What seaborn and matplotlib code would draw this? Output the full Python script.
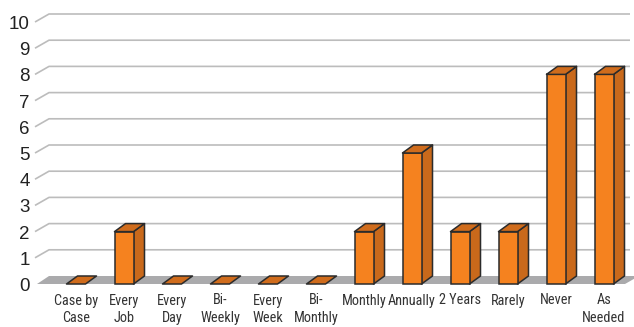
import matplotlib
matplotlib.use("Agg")
import matplotlib.pyplot as plt
from matplotlib import font_manager
from matplotlib.patches import Polygon, Rectangle
import seaborn as sns

categories = ["Case by\nCase", "Every\nJob", "Every\nDay", "Bi-\nWeekly", "Every\nWeek",
              "Bi-\nMonthly", "Monthly", "Annually", "2 Years", "Rarely", "Never", "As\nNeeded"]
values = [0, 2, 0, 0, 0, 0, 2, 5, 2, 2, 8, 8]
y_ticks = list(range(0, 11))

FRONT = "#F5821F"
SIDE = "#C9691B"
TOP = "#D06C1C"
EDGE = "#2b2b2b"
GRID = "#bcbcbc"
FLOOR = "#aaaaac"

names = {f.name for f in font_manager.fontManager.ttflist}
narrow = next((n for n in ("Liberation Sans Narrow", "Roboto Condensed", "PT Sans Narrow")
               if n in names), "Liberation Sans")

sns.set_theme(style="white")
plt.rcParams["font.family"] = ["Liberation Sans", "DejaVu Sans"]

W, H = 634, 327
fig = plt.figure(figsize=(W / 100, H / 100), dpi=100)
ax = fig.add_axes([0, 0, 1, 1])

# pixel layout of the category/value scales
x0_px, step_px = 76.0, 48.0
y0_px, unit_px = 284.0, 26.2
XLIM = ((0 - x0_px) / step_px, (W - x0_px) / step_px)
YLIM = ((y0_px - H) / unit_px, y0_px / unit_px)


def px_x(p):
    return p / step_px


def px_y(p):
    return p / unit_px


# depth offsets for bars and for the floor/back wall
bdx, bdy = px_x(11), px_y(8)
wdx, wdy = px_x(14), px_y(8)
left_front = (35 - x0_px) / step_px
right_back = (630 - x0_px) / step_px
right_front = (625 - x0_px) / step_px

# back-wall gridlines with their diagonal stubs on the left
for v in y_ticks[1:]:
    ax.plot([left_front, left_front + wdx, right_back], [v, v + wdy, v + wdy],
            color=GRID, lw=1.2, zorder=1, solid_capstyle="butt")
for v in y_ticks:
    ax.text(left_front - px_x(5), v - px_y(2.5), str(v), ha="right", va="center",
            fontsize=13.5, color="#222222")

# floor
ax.add_patch(Polygon([(left_front + px_x(2), 0), (right_front, 0),
                      (right_front + wdx, wdy), (left_front + wdx, wdy)],
                     closed=True, facecolor=FLOOR, edgecolor="none", zorder=2))

# front faces of the bars
sns.barplot(x=list(range(len(values))), y=values, width=19 / 48, color=FRONT,
            saturation=1, edgecolor=EDGE, linewidth=1.1, ax=ax, zorder=4)
ax.set_xlim(*XLIM)
ax.set_ylim(*YLIM)
ax.axis("off")

# side and top faces built on each bar
bars = [p for p in ax.patches if isinstance(p, Rectangle)]
for bar in bars:
    xa = bar.get_x()
    xb = xa + bar.get_width()
    h = bar.get_height()
    if h > 0:
        ax.add_patch(Polygon([(xb, 0), (xb + bdx, bdy), (xb + bdx, h + bdy), (xb, h)],
                             closed=True, facecolor=SIDE, edgecolor=EDGE, lw=1.1, zorder=3,
                             joinstyle="round"))
    else:
        bar.set_visible(False)
    ax.add_patch(Polygon([(xa, h), (xa + bdx, h + bdy), (xb + bdx, h + bdy), (xb, h)],
                         closed=True, facecolor=TOP, edgecolor=EDGE, lw=1.1, zorder=5,
                         joinstyle="round"))

# category labels
for i, lab in enumerate(categories):
    ax.text(i, px_y(-9.5), lab, ha="center", va="top", fontsize=10.3, color="#333333",
            family=[narrow, "DejaVu Sans"], linespacing=1.35)

fig.savefig("out.png", dpi=100)
